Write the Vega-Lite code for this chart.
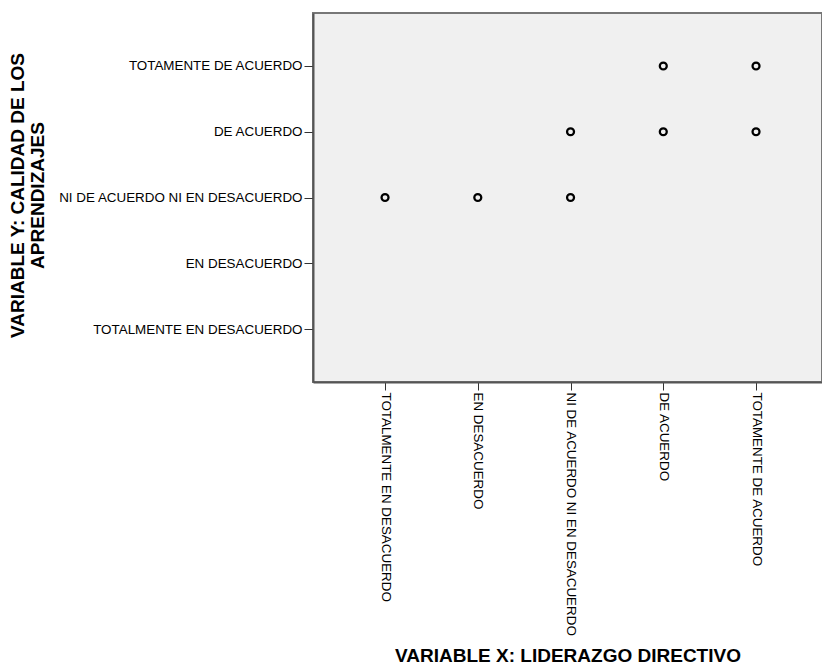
{
  "$schema": "https://vega.github.io/schema/vega-lite/v6.json",
  "width": 509,
  "height": 369,
  "autosize": {"type": "none"},
  "padding": {"left": 313, "top": 13, "right": 0, "bottom": 284},
  "background": "white",
  "config": {
    "view": {"fill": "#f0f0f0", "stroke": "#777777", "strokeWidth": 2},
    "font": "Liberation Sans",
    "axis": {"grid": false}
  },
  "data": {
    "values": [
      {"x": "TOTALMENTE EN DESACUERDO", "y": "NI DE ACUERDO NI EN DESACUERDO"},
      {"x": "EN DESACUERDO", "y": "NI DE ACUERDO NI EN DESACUERDO"},
      {"x": "NI DE ACUERDO NI EN DESACUERDO", "y": "NI DE ACUERDO NI EN DESACUERDO"},
      {"x": "NI DE ACUERDO NI EN DESACUERDO", "y": "DE ACUERDO"},
      {"x": "DE ACUERDO", "y": "DE ACUERDO"},
      {"x": "DE ACUERDO", "y": "TOTAMENTE DE ACUERDO"},
      {"x": "TOTAMENTE DE ACUERDO", "y": "DE ACUERDO"},
      {"x": "TOTAMENTE DE ACUERDO", "y": "TOTAMENTE DE ACUERDO"}
    ]
  },
  "mark": {"type": "point", "shape": "circle", "filled": false, "stroke": "black", "strokeWidth": 2.3, "size": 48, "opacity": 1},
  "encoding": {
    "x": {
      "field": "x", "type": "ordinal",
      "scale": {
        "type": "point",
        "domain": ["TOTALMENTE EN DESACUERDO", "EN DESACUERDO", "NI DE ACUERDO NI EN DESACUERDO", "DE ACUERDO", "TOTAMENTE DE ACUERDO"],
        "padding": 0.744, "align": 0.522
      },
      "axis": {
        "title": "VARIABLE X: LIDERAZGO DIRECTIVO",
        "titleFont": "Liberation Sans", "titleFontSize": 19, "titleFontWeight": "bold", "titleColor": "black",
        "titleBaseline": "alphabetic", "titleY": 279,
        "labelAngle": 90, "labelFontSize": 13.4, "labelColor": "black", "labelLimit": 0, "labelPadding": 2,
        "tickSize": 8, "tickColor": "#333333", "tickWidth": 1,
        "domainColor": "#555555", "domainWidth": 2
      }
    },
    "y": {
      "field": "y", "type": "ordinal",
      "scale": {
        "type": "point",
        "domain": ["TOTAMENTE DE ACUERDO", "DE ACUERDO", "NI DE ACUERDO NI EN DESACUERDO", "EN DESACUERDO", "TOTALMENTE EN DESACUERDO"],
        "padding": 0.806
      },
      "axis": {
        "title": ["VARIABLE Y:  CALIDAD DE LOS", "APRENDIZAJES"],
        "titleFont": "Liberation Sans", "titleFontSize": 19, "titleFontWeight": "bold", "titleColor": "black",
        "titleAngle": -90, "titleAlign": "center", "titleBaseline": "alphabetic", "titleLineHeight": 20,
        "titleX": -290, "titleY": 182,
        "labelFontSize": 13.4, "labelColor": "black", "labelLimit": 0, "labelPadding": 2,
        "tickSize": 9, "tickColor": "#333333", "tickWidth": 1,
        "domainColor": "#555555", "domainWidth": 2
      }
    }
  }
}
